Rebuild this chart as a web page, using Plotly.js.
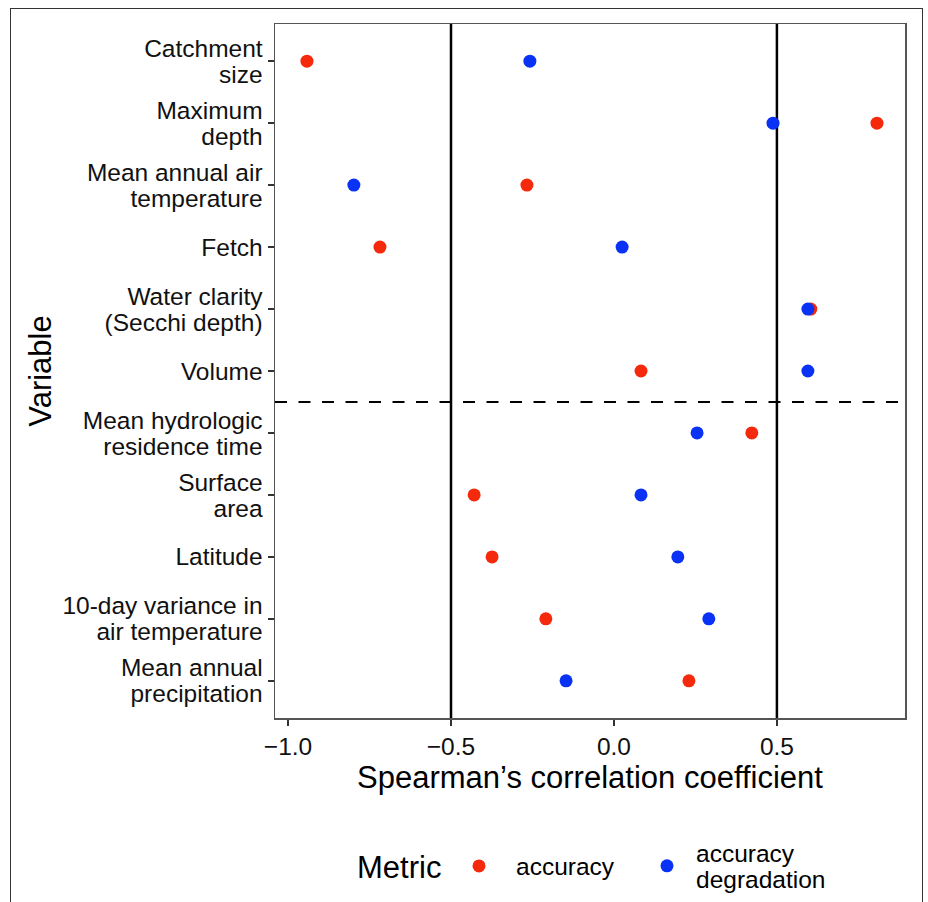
<!DOCTYPE html>
<html>
<head>
<meta charset="utf-8">
<script src="https://cdn.plot.ly/plotly-3.0.1.min.js"></script>
<style>
  body { margin: 0; background: #fff; }
  #wrap { position: relative; width: 928px; height: 902px; }
  #chart { width: 928px; height: 902px; }
  #frame { position: absolute; left: 10px; top: 8px; width: 911px; height: 900px;
           border: 1.5px solid #333; pointer-events: none; }
</style>
</head>
<body>
<div id="wrap">
  <div id="chart"></div>
  <div id="frame"></div>
</div>
<script>
const variables = [
  "Catchment<br>size",
  "Maximum<br>depth",
  "Mean annual air<br>temperature",
  "Fetch",
  "Water clarity<br>(Secchi depth)",
  "Volume",
  "Mean hydrologic<br>residence time",
  "Surface<br>area",
  "Latitude",
  "10-day variance in<br>air temperature",
  "Mean annual<br>precipitation"
];
const accuracy = [-0.942, 0.807, -0.267, -0.718, 0.604, 0.083, 0.423, -0.429, -0.374, -0.209, 0.230];
const accuracyDegradation = [-0.258, 0.488, -0.798, 0.025, 0.595, 0.595, 0.255, 0.083, 0.196, 0.291, -0.147];
const xTickVals = [-1.0, -0.5, 0.0, 0.5];
const xTickText = ["\u22121.0", "\u22120.5", "0.0", "0.5"];
const thresholds = [-0.5, 0.5];
const groupSplit = 5.5;

const FONT = "Liberation Sans, Arial, sans-serif";
const LBL = 24.5;
const TTL = 31;

const traces = [
  {
    type: "scatter", mode: "markers", name: "accuracy", legend: "legend",
    x: accuracy, y: variables,
    marker: { color: "#F52A0C", size: 13 }
  },
  {
    type: "scatter", mode: "markers", name: "accuracy<br>degradation", legend: "legend2",
    x: accuracyDegradation, y: variables,
    marker: { color: "#0A32F5", size: 13 }
  }
];

const shapes = [];
thresholds.forEach(v => shapes.push({
  type: "line", xref: "x", yref: "paper", x0: v, x1: v, y0: 0, y1: 1,
  line: { color: "#000", width: 2.5 }, layer: "below"
}));
shapes.push({
  type: "line", xref: "paper", yref: "y", x0: 0, x1: 1, y0: groupSplit, y1: groupSplit,
  line: { color: "#000", width: 2.2, dash: "12px,11.5px" }, layer: "below"
});

const legendBase = {
  orientation: "h", xref: "container", yref: "container", xanchor: "left", yanchor: "middle",
  font: { family: FONT, size: LBL, color: "#000" }, itemwidth: 48, valign: "middle",
  bgcolor: "rgba(0,0,0,0)", borderwidth: 0
};

const layout = {
  width: 928, height: 902,
  margin: { l: 275, r: 23, t: 24, b: 184 },
  paper_bgcolor: "#fff", plot_bgcolor: "#fff",
  font: { family: FONT, color: "#000", size: LBL },
  showlegend: true,
  xaxis: {
    range: [-1.04, 0.893],
    tickvals: xTickVals, ticktext: xTickText,
    ticks: "outside", ticklen: 6, tickwidth: 1.5, tickcolor: "#333",
    showgrid: false, zeroline: false,
    showline: true, linecolor: "#555", linewidth: 1.5, mirror: true,
    tickfont: { family: FONT, size: LBL, color: "#111" },
    title: { text: "Spearman\u2019s correlation coefficient", font: { family: FONT, size: TTL, color: "#000" }, standoff: 3 }
  },
  yaxis: {
    type: "category",
    categoryorder: "array", categoryarray: variables,
    range: [10.6, -0.6],
    ticks: "outside", ticklen: 6, tickwidth: 1.5, tickcolor: "#333",
    showgrid: false, zeroline: false,
    showline: true, linecolor: "#555", linewidth: 1.5, mirror: true,
    tickfont: { family: FONT, size: LBL, color: "#111" },
    title: { text: "Variable", font: { family: FONT, size: TTL, color: "#000" }, standoff: 1 }
  },
  shapes: shapes,
  legend: Object.assign({}, legendBase, {
    x: 355 / 928, y: 1 - 869 / 902,
    title: { text: "Metric ", font: { family: FONT, size: TTL, color: "#000" }, side: "left" }
  }),
  legend2: Object.assign({}, legendBase, {
    x: 638 / 928, y: 1 - 866 / 902
  })
};

// tighten line spacing of multi-line labels to match the reference (~1.06 em)
function tighten(root, ratio) {
  root.querySelectorAll("text").forEach(t => {
    const lines = t.querySelectorAll("tspan.line");
    if (lines.length < 2) return;
    const n = lines.length;
    const off = (1.3 - ratio) * (n - 1) / 2;
    lines.forEach((ln, i) => ln.setAttribute("dy", (i * ratio + off) + "em"));
  });
}
function nudge(root, selector, dx, dy) {
  root.querySelectorAll(selector).forEach(t => {
    const tr = t.getAttribute("transform") || "";
    t.setAttribute("transform", tr + " translate(" + dx + "," + dy + ")");
  });
}

Plotly.newPlot("chart", traces, layout, { displayModeBar: false, staticPlot: true })
  .then(gd => {
    tighten(gd, 26 / LBL);
    nudge(gd, ".legendtitletext", 0, -6);
    nudge(gd, ".legend .legendpoints", -8, 0);
  });
</script>
</body>
</html>
